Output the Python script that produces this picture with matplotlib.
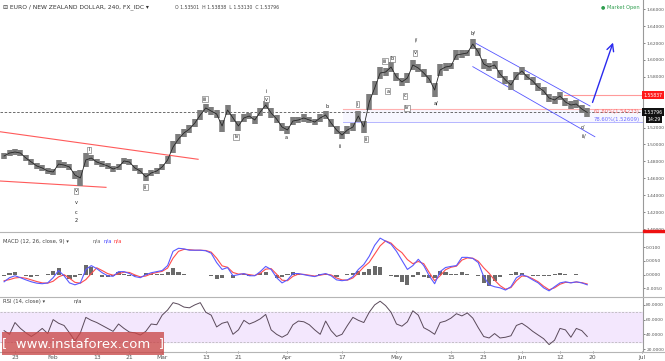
import numpy as np
import pandas as pd
import matplotlib
matplotlib.use("Agg")
import matplotlib.pyplot as plt
from matplotlib.lines import Line2D
from matplotlib.patches import Rectangle

# ---------------- data (daily samples of the 4H chart) ----------------
all_days = pd.bdate_range("2017-01-19", "2017-07-05")
dates = all_days[:108]

close = [
    1.4864, 1.4899, 1.4911, 1.4899, 1.4840, 1.4793, 1.4746, 1.4722, 1.4686, 1.4675, 1.4769, 1.4757, 1.4734, 1.4639, 1.4604,
    1.4817, 1.4840, 1.4793, 1.4769, 1.4746, 1.4710, 1.4734, 1.4805, 1.4793, 1.4722, 1.4686, 1.4615, 1.4663, 1.4686, 1.4734, 1.4817,
    1.4970, 1.5065, 1.5136, 1.5183, 1.5254, 1.5349, 1.5432, 1.5396, 1.5361, 1.5219, 1.5408, 1.5314, 1.5219, 1.5314, 1.5337, 1.5290,
    1.5385, 1.5467, 1.5373, 1.5302, 1.5207, 1.5172, 1.5278, 1.5290, 1.5314, 1.5290, 1.5266, 1.5314, 1.5349, 1.5254, 1.5172, 1.5112,
    1.5172, 1.5207, 1.5337, 1.5207, 1.5503, 1.5669, 1.5846, 1.5858, 1.5917, 1.5799, 1.5740, 1.5787, 1.5941, 1.5905, 1.5846, 1.5775,
    1.5645, 1.5882, 1.5917, 1.5929, 1.6059, 1.6071, 1.6083, 1.6189, 1.6095, 1.5953, 1.5917, 1.5941, 1.5834, 1.5763, 1.5704, 1.5811,
    1.5870, 1.5799, 1.5751, 1.5680, 1.5633, 1.5550, 1.5527, 1.5574, 1.5503, 1.5467, 1.5479, 1.5420, 1.53796,
]
day_range = [
    0.008, 0.007, 0.008, 0.007, 0.008, 0.007, 0.007, 0.007, 0.006, 0.008, 0.009, 0.007, 0.007, 0.010, 0.020,
    0.016, 0.008, 0.007, 0.006, 0.007, 0.007, 0.008, 0.008, 0.007, 0.008, 0.008, 0.010, 0.008, 0.007, 0.008, 0.009,
    0.014, 0.012, 0.010, 0.009, 0.010, 0.011, 0.009, 0.010, 0.010, 0.014, 0.012, 0.010, 0.012, 0.010, 0.008, 0.009,
    0.009, 0.010, 0.011, 0.009, 0.010, 0.009, 0.010, 0.008, 0.009, 0.008, 0.008, 0.009, 0.009, 0.010, 0.009, 0.010,
    0.009, 0.010, 0.013, 0.014, 0.020, 0.016, 0.014, 0.010, 0.011, 0.010, 0.010, 0.012, 0.012, 0.010, 0.010, 0.010,
    0.016, 0.015, 0.009, 0.008, 0.012, 0.009, 0.008, 0.011, 0.010, 0.012, 0.009, 0.009, 0.010, 0.010, 0.011, 0.010,
    0.009, 0.008, 0.009, 0.009, 0.009, 0.010, 0.009, 0.009, 0.009, 0.009, 0.009, 0.009, 0.011,
]
macd_line = [
    -0.0026, -0.0011, -0.0004, -0.0011, -0.0019, -0.0026, -0.0031, -0.0033, -0.0030, -0.0011, 0.0015, -0.0004, -0.0030, -0.0037, -0.0030,
    0.0019, 0.0033, 0.0022, 0.0007, -0.0004, -0.0006, 0.0011, 0.0011, 0.0004, -0.0007, -0.0011, 0.0000, 0.0007, 0.0011, 0.0015, 0.0033,
    0.0085, 0.0096, 0.0094, 0.0089, 0.0089, 0.0089, 0.0087, 0.0078, 0.0044, 0.0019, 0.0026, -0.0004, 0.0000, 0.0004, -0.0004, -0.0004,
    0.0011, 0.0030, 0.0019, -0.0011, -0.0030, -0.0019, 0.0004, 0.0004, 0.0000, -0.0004, -0.0007, 0.0000, 0.0004, -0.0004, -0.0019, -0.0022,
    -0.0019, -0.0007, 0.0019, 0.0037, 0.0067, 0.0107, 0.0133, 0.0122, 0.0111, 0.0085, 0.0052, 0.0019, 0.0033, 0.0056, 0.0033, -0.0004,
    -0.0033, 0.0011, 0.0026, 0.0030, 0.0033, 0.0063, 0.0063, 0.0059, 0.0044, -0.0007, -0.0037, -0.0044, -0.0048, -0.0056, -0.0044, -0.0011,
    0.0000, -0.0007, -0.0019, -0.0030, -0.0048, -0.0059, -0.0044, -0.0030, -0.0026, -0.0030, -0.0026, -0.0030, -0.0037,
]
signal_line = [
    -0.0022, -0.0018, -0.0012, -0.0010, -0.0013, -0.0019, -0.0025, -0.0030, -0.0031, -0.0024, -0.0008, 0.0000, -0.0013, -0.0028, -0.0031,
    -0.0018, 0.0004, 0.0025, 0.0015, 0.0004, -0.0002, 0.0003, 0.0009, 0.0008, -0.0001, -0.0008, -0.0005, 0.0003, 0.0008, 0.0012, 0.0024,
    0.0060, 0.0085, 0.0092, 0.0091, 0.0089, 0.0089, 0.0088, 0.0082, 0.0060, 0.0032, 0.0027, 0.0008, 0.0002, 0.0003, 0.0000, -0.0003,
    0.0005, 0.0020, 0.0022, 0.0002, -0.0020, -0.0022, -0.0006, 0.0002, 0.0001, -0.0002, -0.0005, -0.0002, 0.0002, -0.0001, -0.0012, -0.0019,
    -0.0020, -0.0012, 0.0007, 0.0028, 0.0045, 0.0075, 0.0105, 0.0123, 0.0115, 0.0095, 0.0080, 0.0055, 0.0040, 0.0048, 0.0040, 0.0008,
    -0.0022, -0.0004, 0.0018, 0.0027, 0.0031, 0.0053, 0.0061, 0.0060, 0.0049, 0.0025, 0.0005, -0.0020, -0.0040, -0.0053, -0.0047, -0.0022,
    -0.0005, -0.0006, -0.0015, -0.0026, -0.0042, -0.0055, -0.0048, -0.0035, -0.0028, -0.0029, -0.0027, -0.0029, -0.0034,
]
rsi = [
    45, 40, 56, 48, 42, 37, 42, 48, 41, 60, 55, 52, 42, 31, 42,
    63, 59, 56, 52, 48, 44, 54, 48, 43, 42, 39, 44, 54, 53, 66, 73,
    83, 81, 77, 76, 80, 83, 70, 66, 50, 55, 57, 40, 46, 59, 54, 57,
    61, 67, 46, 40, 36, 40, 53, 58, 57, 53, 46, 40, 58, 45, 37, 40,
    52, 63, 59, 56, 70, 80, 85, 79, 70, 54, 51, 57, 72, 66, 49, 45,
    40, 56, 58, 62, 68, 65, 69, 62, 49, 37, 35, 41, 35, 36, 38, 52,
    55, 50, 44, 39, 34, 26, 32, 48, 46, 36, 48, 45, 37,
]

tick_dates = ["2017-01-23", "2017-02-01", "2017-02-13", "2017-02-21", "2017-03-01", "2017-03-13",
              "2017-03-21", "2017-04-03", "2017-04-17", "2017-05-01", "2017-05-15", "2017-05-23",
              "2017-06-01", "2017-06-12", "2017-06-20", "2017-07-03"]
tick_labels = ["23", "Feb", "13", "21", "Mar", "13", "21", "Apr", "17", "May", "15", "23",
               "Jun", "12", "20", "Jul"]

price_ticks = [1.40, 1.42, 1.44, 1.46, 1.48, 1.50, 1.52, 1.54, 1.56, 1.58, 1.60, 1.62, 1.64, 1.66]
hidden_price_ticks = [1.54, 1.56]   # covered by the price labels in the reference

last_price = 1.53796
resistance = 1.55837
fib_618 = 1.54233
fib_786 = 1.52609

# wave labels: (text, day index, price, boxed)
wave_labels = [
    ("iii", 36.9, 1.5538, True), ("iv", 42.6, 1.5089, True), ("i", 48.1, 1.5633, False),
    ("v", 48.1, 1.5538, True), ("a", 51.7, 1.5077, False), ("b", 59.2, 1.5444, False),
    ("ii", 61.6, 1.4982, False), ("i", 64.8, 1.5479, True), ("ii", 66.4, 1.5065, True),
    ("iii", 69.9, 1.5988, True), ("b", 71.2, 1.6012, True), ("a", 70.4, 1.5633, True),
    ("c", 73.6, 1.5574, True), ("iv", 73.9, 1.5432, True), ("i/", 75.6, 1.6237, False),
    ("v", 75.4, 1.6083, True), ("a/", 79.2, 1.5491, False), ("b/", 86.0, 1.6319, False),
    ("c/", 106.2, 1.5207, False), ("ii/", 106.4, 1.5101, False), ("i", 15.6, 1.4935, True),
    ("v", 13.2, 1.4450, True), ("v", 13.2, 1.4308, False), ("c", 13.2, 1.4201, False),
    ("2", 13.2, 1.4095, False), ("ii", 25.9, 1.4497, True),
]

# ---------------- figure ----------------
W, H = 665, 361
fig = plt.figure(figsize=(W / 100, H / 100), dpi=100)
fig.patch.set_facecolor("white")

def frac(px_left, px_top, px_w, px_h):
    return [px_left / W, 1 - (px_top + px_h) / H, px_w / W, px_h / H]

ax = fig.add_axes(frac(0, 0, 643, 232))
axm = fig.add_axes(frac(0, 233, 643, 63))
axr = fig.add_axes(frac(0, 297, 643, 54))

x = np.arange(len(dates))
tick_pos = [all_days.get_loc(pd.Timestamp(t)) for t in tick_dates]
xlim = (-0.75, 117.23)

for a in (ax, axm, axr):
    a.set_xlim(*xlim)
    for s in ("top", "left"):
        a.spines[s].set_visible(False)
    a.spines["right"].set_color("#9a9a9a")
    a.spines["right"].set_linewidth(0.8)
    a.spines["bottom"].set_visible(False)
    a.yaxis.tick_right()
    a.tick_params(axis="y", labelsize=3.2, colors="#555555", length=1.5, width=0.5, pad=0.8)
    a.tick_params(axis="x", bottom=False, labelbottom=False)
    a.set_facecolor("white")

# ---- main price panel ----
close_a = np.array(close)
rng = np.array(day_range)
ax.vlines(x, close_a - rng / 2, close_a + rng / 2, color="#7d7d7d", lw=4.0, zorder=3)
ax.plot(x, close_a, color="#262626", lw=0.6, zorder=4)
ax.set_ylim(1.39645, 1.6710)
ax.set_yticks(price_ticks)
ax.set_yticklabels(["" if v in hidden_price_ticks else f"{v:.5f}" for v in price_ticks])

# current price dashed line
ax.axhline(last_price, color="#555555", lw=0.6, ls=(0, (3, 2)), zorder=2)
# resistance line
x_res = 102.7
ax.plot([x_res, xlim[1]], [resistance, resistance], color="#ff9a9a", lw=0.8, zorder=2)
# fib lines
x_fib = 62.2
ax.plot([x_fib, xlim[1]], [fib_618, fib_618], color="#ffb0b0", lw=0.8, zorder=2)
ax.plot([x_fib, xlim[1]], [fib_786, fib_786], color="#a9a9ff", lw=0.6, zorder=2)
ax.fill_between([x_fib, xlim[1]], fib_786, fib_618, color="#e9e9ff", alpha=0.35, lw=0, zorder=1)
ax.text(108.2, fib_618 - 0.0002, "61.80%(1.54233)", color="#ff6b6b", fontsize=3.8, va="top", ha="left")
ax.text(108.2, fib_786 + 0.0004, "78.60%(1.52609)", color="#6b6bff", fontsize=3.8, va="bottom", ha="left")

# red trendlines
ax.plot([-0.75, 35.6], [1.5151, 1.4825], color="#ff5a5a", lw=0.8, zorder=2)
ax.plot([-0.75, 18.7], [1.4568, 1.4493], color="#ff5a5a", lw=0.8, zorder=2)
# blue channel
ax.plot([86.0, 107.5], [1.6217, 1.5456], color="#5555ff", lw=0.6, zorder=2)
ax.plot([86.0, 108.4], [1.5921, 1.5092], color="#5555ff", lw=0.6, zorder=2)
# projected arrow
ax.annotate("", xy=(111.9, 1.6237), xytext=(107.8, 1.5467),
            arrowprops=dict(arrowstyle="->,head_length=0.5,head_width=0.25", color="#2a2aee", lw=1.0),
            zorder=6)

for txt, d, p, boxed in wave_labels:
    kw = dict(fontsize=3.6, color="#222222", ha="center", va="center", zorder=7)
    if boxed:
        kw["bbox"] = dict(boxstyle="square,pad=0.18", fc="white", ec="#666666", lw=0.4)
    ax.text(d, p, txt, **kw)

# price labels on axis
ax.annotate("1.55837", xy=(0.996, resistance), xycoords=("figure fraction", "data"), fontsize=3.3,
            color="white", va="center", ha="right", annotation_clip=False, zorder=10,
            bbox=dict(boxstyle="square,pad=0.3", fc="#ff1a1a", ec="none"))
ax.annotate("1.53796", xy=(0.996, last_price + 0.0004), xycoords=("figure fraction", "data"), fontsize=3.3,
            color="white", va="center", ha="right", annotation_clip=False, zorder=10,
            bbox=dict(boxstyle="square,pad=0.3", fc="#111111", ec="none"))
ax.annotate("14:29", xy=(0.994, last_price - 0.0079), xycoords=("figure fraction", "data"), fontsize=3.3,
            color="white", va="center", ha="right", annotation_clip=False, zorder=10,
            bbox=dict(boxstyle="square,pad=0.3", fc="#111111", ec="none"))
fig.add_artist(Rectangle((643 / W, 1 - 232 / H), 22 / W, 2.2 / H, transform=fig.transFigure,
                         color="#ee1111", zorder=10))

# ---- MACD panel ----
macd_a = np.array(macd_line)
sig_a = np.array(signal_line)
axm.bar(x, macd_a - sig_a, width=0.75, color="#6a6a6a", zorder=2)
axm.plot(x, sig_a, color="#ff4d4d", lw=0.8, zorder=3)
axm.plot(x, macd_a, color="#5a5aff", lw=0.8, zorder=4)
axm.set_ylim(-0.00777, 0.01517)
mt = [-0.005, 0.0, 0.005, 0.010]
axm.set_yticks(mt)
axm.set_yticklabels([f"{v:.4f}" for v in mt])

# ---- RSI panel ----
axr.axhspan(30, 70, color="#f3e7fd", zorder=0)
axr.axhline(70, color="#b0b0b0", lw=0.5, ls=(0, (3, 2)))
axr.axhline(30, color="#b0b0b0", lw=0.5, ls=(0, (3, 2)))
axr.plot(x, rsi, color="#5a4a5a", lw=0.7, zorder=3)
axr.set_ylim(17.3, 90.7)
rt = [20, 40, 60, 80]
axr.set_yticks(rt)
axr.set_yticklabels([f"{v:.4f}" for v in rt])
axr.set_xticks(tick_pos)
axr.set_xticklabels(tick_labels)
axr.tick_params(axis="x", bottom=True, labelbottom=True, labelsize=4.3, colors="#555555",
                length=1.5, width=0.5, pad=1.5)

# separators
for yy in (232.5, 296.5, 351.5):
    fig.add_artist(Line2D([0, 1], [1 - yy / H, 1 - yy / H], transform=fig.transFigure,
                          color="#b5b5b5", lw=0.8))

# header texts
fig.text(3 / W, 1 - 7.5 / H, "⊟ EURO / NEW ZEALAND DOLLAR, 240, FX_IDC ▾", fontsize=4.3,
         color="#333333", va="center", ha="left")
fig.text(175 / W, 1 - 7.5 / H, "O 1.53501  H 1.53838  L 1.53130  C 1.53796", fontsize=3.3,
         color="#444444", va="center", ha="left")
fig.text(601 / W, 1 - 7.5 / H, "● Market Open", fontsize=3.6, color="#2e9e4e", va="center", ha="left")
fig.text(3 / W, 1 - 241 / H, "MACD (12, 26, close, 9) ▾", fontsize=3.8, color="#444444", va="center")
fig.text(93 / W, 1 - 241 / H, "n/a", fontsize=3.8, color="#666666", va="center")
fig.text(103 / W, 1 - 241 / H, "n/a", fontsize=3.8, color="#4444ff", va="center")
fig.text(113 / W, 1 - 241 / H, "n/a", fontsize=3.8, color="#ff3333", va="center")
fig.text(3 / W, 1 - 301 / H, "RSI (14, close) ▾", fontsize=3.8, color="#444444", va="center")
fig.text(73 / W, 1 - 301 / H, "n/a", fontsize=3.8, color="#444444", va="center")

# watermark
fig.add_artist(Rectangle((2 / W, 1 - 355 / H), 162 / W, 23 / H, transform=fig.transFigure,
                         color="#c94848", alpha=0.78, zorder=20, lw=0))
fig.text(83 / W, 1 - 343.5 / H, "[  www.instaforex.com  ]", fontsize=9.5, color="white",
         ha="center", va="center", zorder=21)

fig.savefig("out.png", dpi=100, facecolor="white")
